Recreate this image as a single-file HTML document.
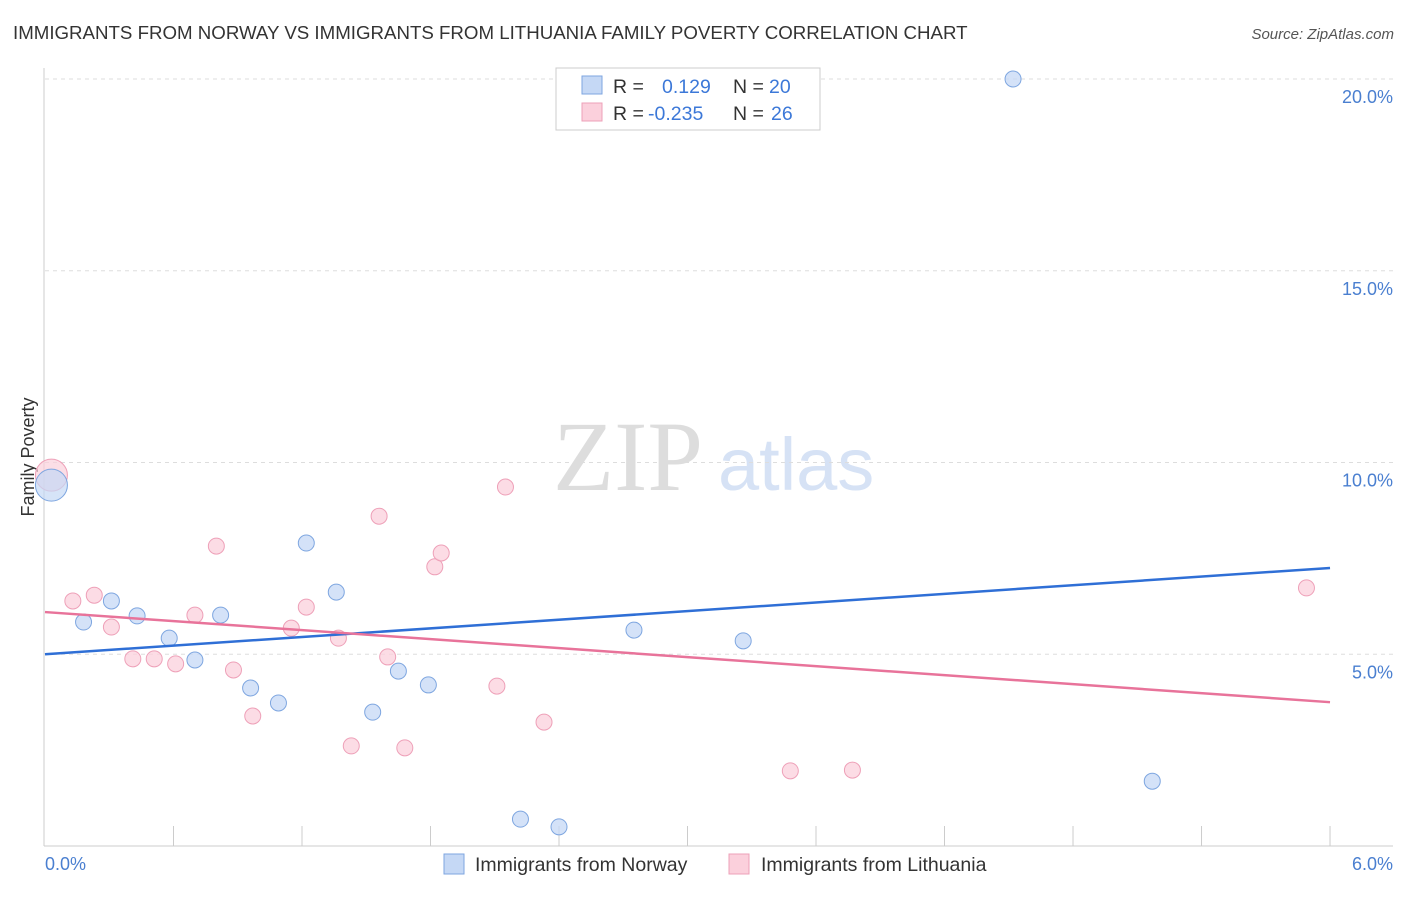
<!DOCTYPE html>
<html><head><meta charset="utf-8"><style>
body{margin:0;background:#fff;font-family:"Liberation Sans",sans-serif;}
</style></head><body>
<svg width="1406" height="892" xmlns="http://www.w3.org/2000/svg" font-family="Liberation Sans, sans-serif">
<text x="13" y="39" font-size="18.7" fill="#333">IMMIGRANTS FROM NORWAY VS IMMIGRANTS FROM LITHUANIA FAMILY POVERTY CORRELATION CHART</text>
<text x="1394" y="39" font-size="15" fill="#555" text-anchor="end" font-style="italic">Source: ZipAtlas.com</text>
<text x="553" y="490" font-size="100" fill="#ddd" font-family="Liberation Serif, serif">ZIP</text>
<text x="718" y="490" font-size="74" fill="#d6e2f5">atlas</text>
<g id="grid"></g>
<line x1="44" y1="68" x2="44" y2="846" stroke="#ccc"/>
<line x1="44" y1="846" x2="1393" y2="846" stroke="#ccc"/>
<g id="ticks"></g>
<text transform="translate(34,457) rotate(-90)" font-size="18" fill="#333" text-anchor="middle">Family Poverty</text>
<text x="45" y="870" font-size="18" fill="#4a7fd0">0.0%</text>
<text x="1393" y="870" font-size="18" fill="#4a7fd0" text-anchor="end">6.0%</text>
<g id="marks"></g>
<g>
<rect x="556" y="68" width="264" height="62" fill="#fff" stroke="#ccc"/>
<rect x="582" y="76" width="20" height="18" fill="#c5d8f5" stroke="#7ea6e0"/>
<rect x="582" y="103" width="20" height="18" fill="#fbd0dc" stroke="#eea0b8"/>
<text x="613" y="93" font-size="19.5" fill="#333">R =</text>
<text x="662" y="93" font-size="19.5" fill="#3c78d8">0.129</text>
<text x="733" y="93" font-size="19.5" fill="#333">N =</text>
<text x="769" y="93" font-size="19.5" fill="#3c78d8">20</text>
<text x="613" y="120" font-size="19.5" fill="#333">R =</text>
<text x="648" y="120" font-size="19.5" fill="#3c78d8">-0.235</text>
<text x="733" y="120" font-size="19.5" fill="#333">N =</text>
<text x="771" y="120" font-size="19.5" fill="#3c78d8">26</text>
</g>
<g>
<rect x="444" y="854" width="20" height="20" fill="#c5d8f5" stroke="#7ea6e0"/>
<text x="475" y="871" font-size="19.5" fill="#333">Immigrants from Norway</text>
<rect x="729" y="854" width="20" height="20" fill="#fbd0dc" stroke="#eea0b8"/>
<text x="761" y="871" font-size="19.5" fill="#333">Immigrants from Lithuania</text>
</g>
</svg>
<script>
const yTicks=[5,10,15,20];
const yTickLabels=["5.0%","10.0%","15.0%","20.0%"];
const norwayX=[0.03,0.18,0.31,0.43,0.58,0.70,0.82,0.96,1.09,1.22,1.36,1.53,1.65,1.79,2.22,2.40,2.75,3.26,4.52,5.17];
const norwayY=[9.41,5.84,6.39,6.0,5.42,4.85,6.02,4.12,3.73,7.90,6.62,3.49,4.56,4.20,0.70,0.50,5.63,5.35,20.0,1.69];
const lithX=[0.03,0.13,0.23,0.31,0.41,0.51,0.61,0.70,0.80,0.88,0.97,1.15,1.22,1.37,1.43,1.56,1.60,1.68,1.82,1.85,2.11,2.15,2.33,3.48,3.77,5.89];
const lithY=[9.67,6.39,6.54,5.71,4.88,4.88,4.75,6.02,7.82,4.59,3.39,5.68,6.23,5.42,2.61,8.60,4.93,2.56,7.28,7.64,4.17,9.36,3.23,1.96,1.98,6.73];
const norwayTrend=[5.0,7.25];
const lithTrend=[6.10,3.75];
const NS="http://www.w3.org/2000/svg";
const sx=v=>45+v*214.17, sy=v=>846-v*38.35;
function mk(t,a,p){const e=document.createElementNS(NS,t);for(const k in a)e.setAttribute(k,a[k]);p.appendChild(e);return e;}
const grid=document.getElementById('grid'),ticks=document.getElementById('ticks'),marks=document.getElementById('marks');
yTicks.forEach((v,i)=>{
 const l=mk('line',{x1:45,x2:1393,y1:sy(v),y2:sy(v),stroke:'#ddd','stroke-dasharray':'4,4'},grid);
 
 
 const t=mk('text',{x:1393,y:sy(v)+24,'font-size':18,fill:'#4a7fd0','text-anchor':'end'},ticks);
 t.textContent=yTickLabels[i];
 
 
});
for(let i=1;i<=10;i++){
 const l=mk('line',{x1:sx(i*0.6),x2:sx(i*0.6),y1:826,y2:846,stroke:'#ccc'},ticks);
 
 
}
function pts(xs,ys,fill,stroke,name){
 xs.forEach((x,i)=>{
  const big=i===0;
  const c=mk('circle',{cx:sx(x),cy:sy(ys[i]),r:big?16:8,fill:fill,stroke:stroke,'stroke-width':1,'fill-opacity':big?0.7:0.75},marks);
  
  
 });
}
pts(lithX,lithY,'#fbd0dc','#eea0b8','lithuania-point');
pts(norwayX,norwayY,'#c5d8f5','#7ea6e0','norway-point');
const t1=mk('line',{x1:sx(0),y1:sy(norwayTrend[0]),x2:sx(6),y2:sy(norwayTrend[1]),stroke:'#2f6fd6','stroke-width':2.5},marks);


const t2=mk('line',{x1:sx(0),y1:sy(lithTrend[0]),x2:sx(6),y2:sy(lithTrend[1]),stroke:'#e8739a','stroke-width':2.5},marks);


</script>
</body></html>
